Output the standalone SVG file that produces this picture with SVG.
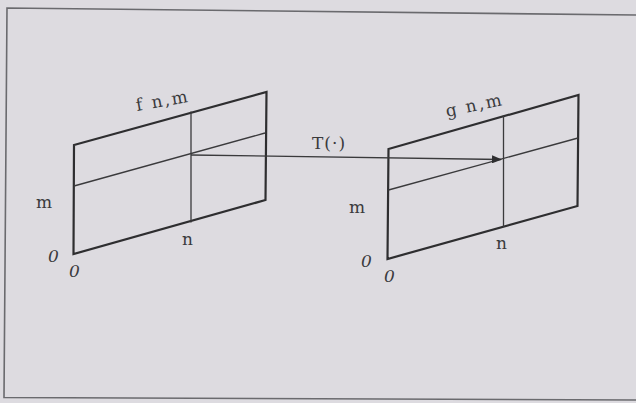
<svg xmlns="http://www.w3.org/2000/svg" width="636" height="403" viewBox="0 0 636 403">
<style>
.bg{fill:#dddbe0}
.frame{fill:none;stroke:#6a6a6e;stroke-width:1.6}
.edge{fill:none;stroke:#2e2e30;stroke-width:2.2;stroke-linejoin:miter}
.inner{fill:none;stroke:#3a3a3c;stroke-width:1.3}
.lbl{font-family:"DejaVu Serif","Liberation Serif",serif;font-size:17px;fill:#3a3a3c}
.zero{font-family:"DejaVu Serif","Liberation Serif",serif;font-size:17px;font-style:italic;fill:#3a3a3c}
</style>
<defs>
<marker id="ah" markerWidth="10" markerHeight="8" refX="9" refY="4" orient="auto" markerUnits="userSpaceOnUse">
<path d="M0,0 L10,4 L0,8 Z" fill="#2e2e30"/>
</marker>
</defs>
<rect class="bg" x="0" y="0" width="636" height="403"/>
<polyline class="frame" points="636,15 7,8 4,397.5 636,400"/>
<g id="f-plane">
<polygon class="edge" points="74,145 266.5,92 265.5,200 73.5,254"/>
<line class="inner" x1="191" y1="111.5" x2="191" y2="222.5"/>
<line class="inner" x1="74" y1="186" x2="265" y2="133"/>
<text class="lbl" transform="translate(137,111) rotate(-10)" letter-spacing="2">f n,m</text>
<text class="lbl" x="36" y="208">m</text>
<text class="lbl" x="182" y="245">n</text>
<text class="zero" x="48" y="262">0</text>
<text class="zero" x="69" y="277">0</text>
</g>
<g id="g-plane">
<polygon class="edge" points="388.5,149 578.5,95 577.5,206 387.5,259"/>
<line class="inner" x1="503.5" y1="115" x2="503.5" y2="227"/>
<line class="inner" x1="388.5" y1="190" x2="578" y2="138"/>
<text class="lbl" transform="translate(447,117) rotate(-12)" letter-spacing="2">g n,m</text>
<text class="lbl" x="349" y="213">m</text>
<text class="lbl" x="496" y="249">n</text>
<text class="zero" x="361" y="267">0</text>
<text class="zero" x="384" y="282">0</text>
</g>
<g id="connectors">
<line class="inner" x1="191" y1="155" x2="501" y2="159.5" marker-end="url(#ah)"/>
<text class="lbl" x="312" y="149" letter-spacing="1">T(·)</text>
</g>
</svg>
